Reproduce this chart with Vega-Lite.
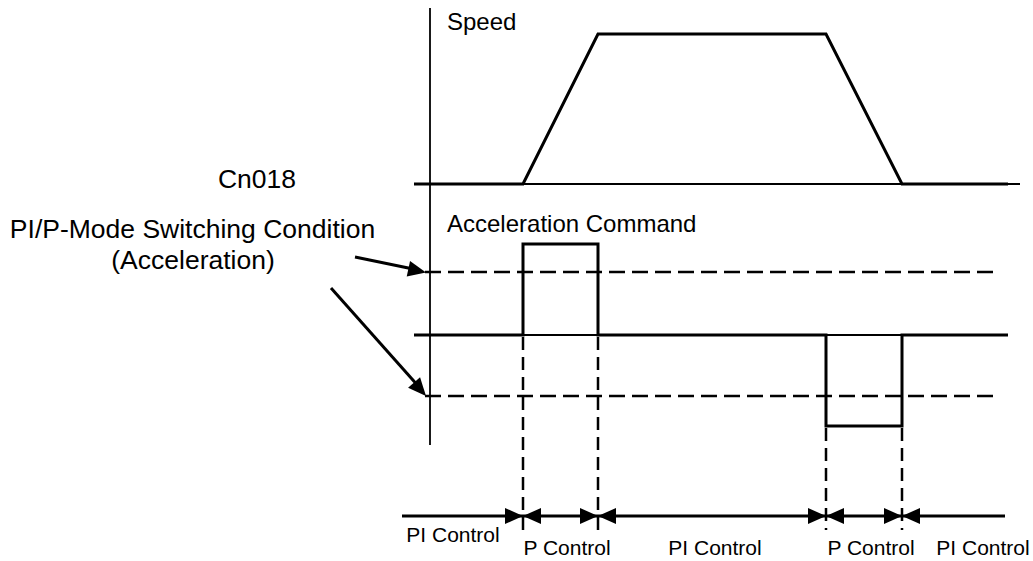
{
  "$schema": "https://vega.github.io/schema/vega-lite/v6.json",
  "width": 1033,
  "height": 561,
  "autosize": {"type": "fit", "contains": "padding"},
  "padding": 0,
  "background": "white",
  "config": {"view": {"stroke": null}},
  "layer": [
    {
      "data": {"values": [
        {"x": 430, "y": 8, "x2": 430, "y2": 445},
        {"x": 414, "y": 184, "x2": 1020, "y2": 184},
        {"x": 414, "y": 335, "x2": 1008, "y2": 335}
      ]},
      "mark": {"type": "rule", "strokeWidth": 1.8, "color": "black"},
      "encoding": {
        "x": {"field": "x", "type": "quantitative", "scale": {"domain": [0, 1033], "nice": false, "zero": false}, "axis": null},
        "y": {"field": "y", "type": "quantitative", "scale": {"domain": [0, 561], "reverse": true, "nice": false, "zero": false}, "axis": null},
        "x2": {"field": "x2"},
        "y2": {"field": "y2"}
      }
    },
    {
      "data": {"values": [
        {"s": "speed", "i": 1, "x": 414, "y": 184},
        {"s": "speed", "i": 2, "x": 523, "y": 184},
        {"s": "speed", "i": 3, "x": 598, "y": 34},
        {"s": "speed", "i": 4, "x": 826, "y": 34},
        {"s": "speed", "i": 5, "x": 902, "y": 184},
        {"s": "speed", "i": 6, "x": 1008, "y": 184},
        {"s": "acc", "i": 1, "x": 414, "y": 335},
        {"s": "acc", "i": 2, "x": 523, "y": 335},
        {"s": "acc", "i": 3, "x": 523, "y": 244},
        {"s": "acc", "i": 4, "x": 598, "y": 244},
        {"s": "acc", "i": 5, "x": 598, "y": 335},
        {"s": "acc", "i": 6, "x": 826, "y": 335},
        {"s": "acc", "i": 7, "x": 826, "y": 426},
        {"s": "acc", "i": 8, "x": 902, "y": 426},
        {"s": "acc", "i": 9, "x": 902, "y": 335},
        {"s": "acc", "i": 10, "x": 1008, "y": 335}
      ]},
      "mark": {"type": "line", "strokeWidth": 3, "color": "black", "strokeJoin": "miter", "strokeCap": "butt"},
      "encoding": {
        "x": {"field": "x", "type": "quantitative"},
        "y": {"field": "y", "type": "quantitative"},
        "detail": {"field": "s", "type": "nominal"},
        "order": {"field": "i", "type": "quantitative"}
      }
    },
    {
      "data": {"values": [
        {"x": 425, "y": 272, "x2": 998, "y2": 272},
        {"x": 425, "y": 396, "x2": 998, "y2": 396}
      ]},
      "mark": {"type": "rule", "strokeWidth": 2.5, "color": "black", "strokeDash": [16, 7]},
      "encoding": {
        "x": {"field": "x", "type": "quantitative"},
        "y": {"field": "y", "type": "quantitative"},
        "x2": {"field": "x2"},
        "y2": {"field": "y2"}
      }
    },
    {
      "data": {"values": [
        {"x": 523, "y": 337, "x2": 523, "y2": 530},
        {"x": 598, "y": 337, "x2": 598, "y2": 530},
        {"x": 826, "y": 428, "x2": 826, "y2": 530},
        {"x": 902, "y": 428, "x2": 902, "y2": 530}
      ]},
      "mark": {"type": "rule", "strokeWidth": 2.5, "color": "black", "strokeDash": [13, 7]},
      "encoding": {
        "x": {"field": "x", "type": "quantitative"},
        "y": {"field": "y", "type": "quantitative"},
        "x2": {"field": "x2"},
        "y2": {"field": "y2"}
      }
    },
    {
      "data": {"values": [
        {"x": 402, "y": 516, "x2": 1005, "y2": 516},
        {"x": 355, "y": 257, "x2": 418, "y2": 270},
        {"x": 331, "y": 288, "x2": 420, "y2": 388}
      ]},
      "mark": {"type": "rule", "strokeWidth": 3, "color": "black"},
      "encoding": {
        "x": {"field": "x", "type": "quantitative"},
        "y": {"field": "y", "type": "quantitative"},
        "x2": {"field": "x2"},
        "y2": {"field": "y2"}
      }
    },
    {
      "data": {"values": [
        {"x": 523, "y": 516, "dir": 0},
        {"x": 523, "y": 516, "dir": 180},
        {"x": 598, "y": 516, "dir": 0},
        {"x": 598, "y": 516, "dir": 180},
        {"x": 826, "y": 516, "dir": 0},
        {"x": 826, "y": 516, "dir": 180},
        {"x": 902, "y": 516, "dir": 0},
        {"x": 902, "y": 516, "dir": 180},
        {"x": 426, "y": 272.5, "dir": 12},
        {"x": 426, "y": 396, "dir": 48.5}
      ]},
      "mark": {"type": "point", "filled": true, "color": "black", "opacity": 1, "strokeWidth": 0, "size": 400, "shape": "M 0 0 L -1.8 -0.8 L -1.8 0.8 Z"},
      "encoding": {
        "x": {"field": "x", "type": "quantitative"},
        "y": {"field": "y", "type": "quantitative"},
        "angle": {"field": "dir", "type": "quantitative", "scale": null}
      }
    },
    {
      "data": {"values": [
        {"x": 447, "y": 30, "t": "Speed"},
        {"x": 447, "y": 232, "t": "Acceleration Command"}
      ]},
      "mark": {"type": "text", "font": "Liberation Sans", "fontSize": 24, "align": "left", "baseline": "alphabetic", "color": "black"},
      "encoding": {
        "x": {"field": "x", "type": "quantitative"},
        "y": {"field": "y", "type": "quantitative"},
        "text": {"field": "t"}
      }
    },
    {
      "data": {"values": [
        {"x": 257, "y": 188, "t": "Cn018"},
        {"x": 192.5, "y": 238, "t": "PI/P-Mode Switching Condition"},
        {"x": 193, "y": 269, "t": "(Acceleration)"}
      ]},
      "mark": {"type": "text", "font": "Liberation Sans", "fontSize": 26.5, "align": "center", "baseline": "alphabetic", "color": "black"},
      "encoding": {
        "x": {"field": "x", "type": "quantitative"},
        "y": {"field": "y", "type": "quantitative"},
        "text": {"field": "t"}
      }
    },
    {
      "data": {"values": [
        {"x": 453, "y": 542, "t": "PI Control"},
        {"x": 567, "y": 555, "t": "P Control"},
        {"x": 715, "y": 555, "t": "PI Control"},
        {"x": 871, "y": 555, "t": "P Control"},
        {"x": 983, "y": 555, "t": "PI Control"}
      ]},
      "mark": {"type": "text", "font": "Liberation Sans", "fontSize": 21, "align": "center", "baseline": "alphabetic", "color": "black"},
      "encoding": {
        "x": {"field": "x", "type": "quantitative"},
        "y": {"field": "y", "type": "quantitative"},
        "text": {"field": "t"}
      }
    }
  ]
}
